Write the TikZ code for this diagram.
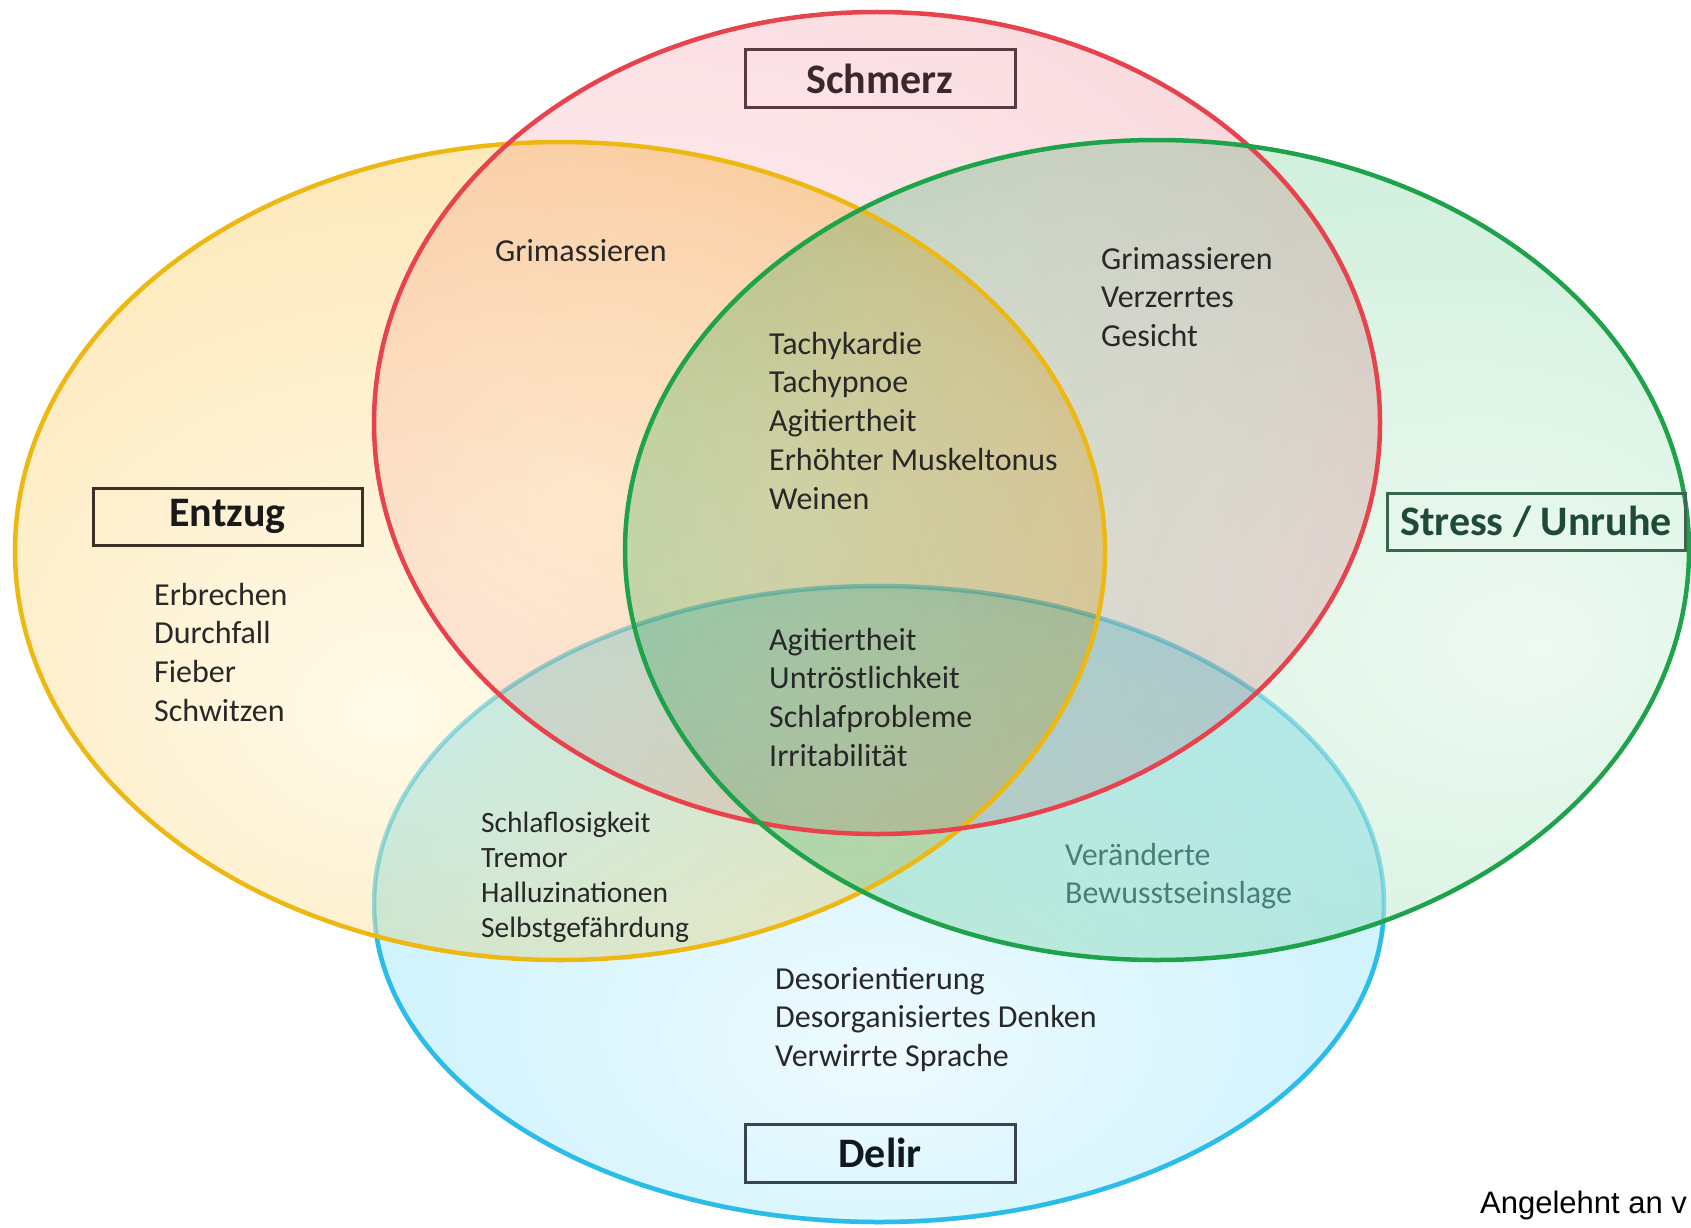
\documentclass[tikz,border=0pt]{standalone}
\usepackage{fontspec}
\setmainfont{Carlito}
\newfontfamily\arialfont{Liberation Sans}
\definecolor{orA}{RGB}{255,250,232}
\definecolor{orB}{RGB}{253,233,188}
\definecolor{orD}{RGB}{251,213,128}
\definecolor{orE}{RGB}{249,196,82}
\definecolor{reA}{RGB}{255,244,244}
\definecolor{reB}{RGB}{250,222,226}
\definecolor{reD}{RGB}{250,206,211}
\definecolor{reE}{RGB}{244,182,188}
\definecolor{grA}{RGB}{238,250,242}
\definecolor{grB}{RGB}{207,239,219}
\definecolor{grD}{RGB}{182,231,202}
\definecolor{grE}{RGB}{150,219,180}
\definecolor{blA}{RGB}{238,251,255}
\definecolor{blB}{RGB}{202,241,252}
\definecolor{blD}{RGB}{166,229,248}
\definecolor{blE}{RGB}{126,215,243}
\definecolor{orS}{RGB}{237,184,18}
\definecolor{redS}{RGB}{232,66,76}
\definecolor{grS}{RGB}{31,163,74}
\definecolor{blS}{RGB}{43,189,232}
\definecolor{txtc}{RGB}{40,40,40}
\definecolor{tealt}{RGB}{72,128,120}
\pgfdeclareradialshading{shOr}{\pgfpoint{-8bp}{-10bp}}{color(0bp)=(orA); color(30bp)=(orB); color(42bp)=(orD); color(50bp)=(orE); color(75bp)=(orE)}
\pgfdeclareradialshading{shRed}{\pgfpoint{-15bp}{-5bp}}{color(0bp)=(reA); color(30bp)=(reB); color(42bp)=(reD); color(50bp)=(reE); color(75bp)=(reE)}
\pgfdeclareradialshading{shGr}{\pgfpoint{18bp}{-6bp}}{color(0bp)=(grA); color(30bp)=(grB); color(42bp)=(grD); color(50bp)=(grE); color(75bp)=(grE)}
\pgfdeclareradialshading{shBl}{\pgfpoint{0bp}{-12bp}}{color(0bp)=(blA); color(30bp)=(blB); color(42bp)=(blD); color(50bp)=(blE); color(75bp)=(blE)}
\newcommand\blk[1]{\begin{tabular}[t]{@{}l@{}}#1\end{tabular}}
\begin{document}
\begin{tikzpicture}[x=1pt,y=-1pt,
  txt/.style={font=\fontsize{32}{38.8}\selectfont, text=txtc, inner sep=0pt, anchor=base west},
  txtsmall/.style={font=\fontsize{29.5}{35}\selectfont, text=txtc, inner sep=0pt, anchor=base west},
  lbl/.style={draw, line width=3pt, inner sep=0pt, minimum height=57pt,
    font=\fontsize{42}{50}\selectfont\bfseries},
  ring/.style={line width=4.5pt}
]
\useasboundingbox[fill=white] (0,0) rectangle (1691,1228);
% fills (multiplied)
\begin{scope}[blend mode=multiply]
\shade[shading=shBl] (879,904) ellipse [x radius=505pt, y radius=318pt];
\end{scope}
\draw[ring, blS, draw opacity=0.45] (879,904) ellipse [x radius=505pt, y radius=318pt];
\begin{scope}[blend mode=multiply]
\shade[shading=shGr] (1157,550) ellipse [x radius=532pt, y radius=410pt];
\shade[shading=shRed] (877,423) ellipse [x radius=503pt, y radius=411pt];
\shade[shading=shOr] (560,551) ellipse [x radius=545pt, y radius=409pt];
\end{scope}
% blue ring, full strength outside the other ellipses
\begin{scope}[even odd rule]
\clip (0,0) rectangle (1691,1228) (560,551) ellipse [x radius=545pt, y radius=409pt];
\begin{scope}[even odd rule]
\clip (0,0) rectangle (1691,1228) (1157,550) ellipse [x radius=532pt, y radius=410pt];
\draw[ring, blS, nonzero rule] (879,904) ellipse [x radius=505pt, y radius=318pt];
\end{scope}
\end{scope}
% strokes
\draw[ring, orS] (560,551) ellipse [x radius=545pt, y radius=409pt];
\draw[ring, redS] (877,423) ellipse [x radius=503pt, y radius=411pt];
\draw[ring, grS] (1157,550) ellipse [x radius=532pt, y radius=410pt];
% labels
\node[lbl, draw={rgb,255:red,90;green,58;blue,64}, text={rgb,255:red,58;green,40;blue,42}, minimum width=270pt, minimum height=58pt] (schmerz) at (880,79) {Schmerz};
\node[lbl, draw={rgb,255:red,58;green,48;blue,37}, text={rgb,255:red,26;green,26;blue,26}, minimum width=269pt] (entzug) at (227.5,516.5) {Entzug};
\node[lbl, draw={rgb,255:red,58;green,102;blue,80}, text={rgb,255:red,31;green,74;blue,53}, minimum width=298pt] (stress) at (1536,521.5) {Stress / Unruhe};
\node[lbl, draw={rgb,255:red,58;green,68;blue,80}, text={rgb,255:red,17;green,24;blue,32}, minimum width=270pt, minimum height=58pt] (delir) at (880,1153) {Delir};
% texts
\node[txt] (grimL) at (495,261) {\blk{Grimassieren}};
\node[txt] (grimR) at (1101,269) {\blk{Grimassieren\\Verzerrtes\\Gesicht}};
\node[txt] (center1) at (769,354) {\blk{Tachykardie\\Tachypnoe\\Agitiertheit\\Erhöhter Muskeltonus\\Weinen}};
\node[txt] (entz) at (154,605) {\blk{Erbrechen\\Durchfall\\Fieber\\Schwitzen}};
\node[txt] (center2) at (769,650) {\blk{Agitiertheit\\Untröstlichkeit\\Schlafprobleme\\Irritabilität}};
\node[txtsmall] (schlaf) at (481,832) {\blk{Schlaflosigkeit\\Tremor\\Halluzinationen\\Selbstgefährdung}};
\node[txt, text=tealt] (veraend) at (1065,865) {\blk{Veränderte\\Bewusstseinslage}};
\node[txt] (desor) at (775,989) {\blk{Desorientierung\\Desorganisiertes Denken\\Verwirrte Sprache}};
\node[inner sep=0pt, anchor=base west, font=\arialfont\fontsize{31}{36}\selectfont, text=black] (src) at (1480,1213) {Angelehnt an v};
\end{tikzpicture}
\end{document}
